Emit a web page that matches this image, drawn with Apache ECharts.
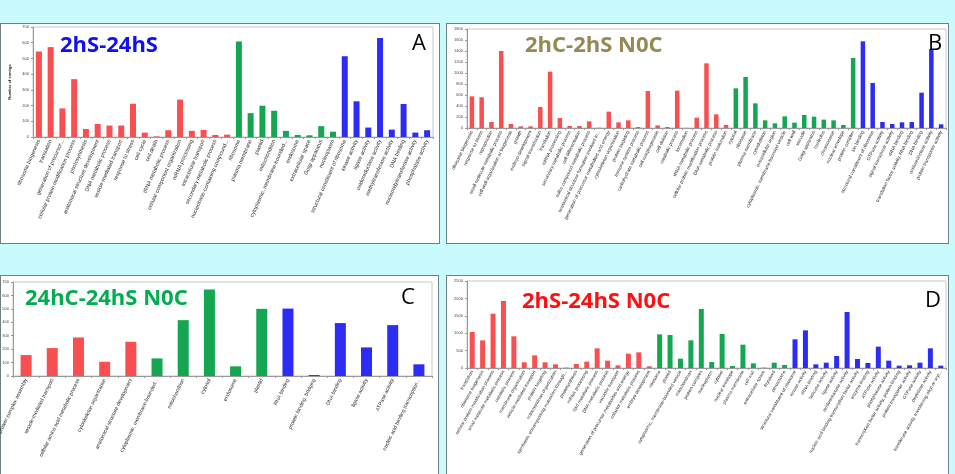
<!DOCTYPE html>
<html>
<head>
<meta charset="utf-8">
<script src="https://cdn.jsdelivr.net/npm/echarts@6/dist/echarts.min.js"></script>
<style>
html, body {
    margin: 0;
    padding: 0;
    width: 955px;
    height: 474px;
    overflow: hidden;
    background: #c9fbfd;
}
.panel {
    position: absolute;
    box-sizing: border-box;
    background: #ffffff;
    border: 1px solid #6f7f84;
}
.chartDiv {
    position: absolute;
}
</style>
</head>
<body>
<div class="panel" style="left:0;top:23px;width:440px;height:221px;"></div>
<div class="panel" style="left:446px;top:23px;width:503px;height:221px;"></div>
<div class="panel" style="left:0;top:275px;width:439px;height:210px;"></div>
<div class="panel" style="left:446px;top:275px;width:503px;height:210px;"></div>
<div id="chartA" class="chartDiv" style="left:0;top:23px;width:440px;height:221px;"></div>
<div id="chartB" class="chartDiv" style="left:446px;top:23px;width:503px;height:221px;"></div>
<div id="chartC" class="chartDiv" style="left:0;top:275px;width:439px;height:199px;"></div>
<div id="chartD" class="chartDiv" style="left:446px;top:275px;width:503px;height:199px;"></div>
<script>
// panel A : 2hS-24hS
const aCats = ['ribosome biogenesis', 'translation', 'generation of precursor...', 'cellular protein modification process',
    'photosynthesis', 'anatomical structure development', 'DNA metabolic process', 'vesicle-mediated transport',
    'response to stress', 'cell cycle', 'cell death', 'tRNA metabolic process', 'cellular component organization',
    'mRNA processing', 'intracellular transport', 'secondary metabolic process', 'nucleobase-containing compound...',
    'ribosome', 'plasma membrane', 'plastid', 'mitochondrion', 'cytoplasmic, membrane-bounded...', 'endosome',
    'extracellular space', 'Golgi apparatus', 'nucleoplasm',
    'structural constituent of ribosome', 'kinase activity', 'ligase activity', 'oxidoreductase activity',
    'methyltransferase activity', 'DNA binding', 'nucleotidyltransferase activity', 'phosphatase activity'];
const aVals = [544, 572, 182, 368, 51, 83, 73, 73, 212, 28, 4, 43, 238, 39, 45, 13, 15,
    608, 152, 199, 167, 39, 13, 11, 69, 34,
    514, 227, 60, 630, 47, 210, 28, 43];
const aGroups = [17, 9, 8];
const aTicks = [0, 700, 100];

// panel B : 2hC-2hS N0C
const bCats = ['ribosome biogenesis', 'response to stress', 'reproduction', 'small molecule metabolic process',
    'cell wall organization or biogenesis', 'growth', 'embryo development', 'signal transduction', 'translation',
    'mRNA processing', 'secondary metabolic process', 'cell differentiation', 'sulfur compound metabolic process',
    'anatomical structure formation involved in...', 'generation of precursor metabolites and energy',
    'cytoskeleton organization', 'protein targeting', 'immune system process', 'carbohydrate metabolic process',
    'cell morphogenesis', 'cell division', 'catabolic process', 'locomotion', 'tRNA metabolic process',
    'cellular protein modification process', 'DNA metabolic process', 'protein maturation',
    'cytosol', 'ribosome', 'plasma membrane', 'cytoskeleton', 'extracellular region',
    'cytoplasmic, membrane-bounded vesicle', 'cell wall', 'vacuole', 'Golgi apparatus', 'nucleolus', 'chromosome',
    'nuclear envelope', 'protein complex',
    'ion binding', 'structural constituent of ribosome', 'GTPase activity', 'signal transducer activity',
    'rRNA binding', 'translation factor activity, RNA binding', 'DNA binding', 'oxidoreductase activity',
    'protein transporter activity'];
const bVals = [576, 558, 109, 1400, 73, 30, 30, 382, 1024, 182, 36, 36, 121, 6, 297, 103, 139, 18, 673, 48, 18, 679, 2, 188, 1176, 248, 55,
    721, 927, 448, 139, 85, 212, 97, 236, 206, 152, 139, 55, 1273,
    1576, 818, 109, 73, 103, 109, 642, 1436, 67];
const bGroups = [27, 13, 9];
const bTicks = [0, 1800, 200];

// panel C : 24hC-24hS N0C
const cCats = ['protein complex assembly', 'vesicle-mediated transport', 'cellular amino acid metabolic process',
    'cytoskeleton organization', 'anatomical structure development',
    'cytoplasmic, membrane-bounded...', 'mitochondrion', 'cytosol', 'endosome', 'plastid',
    'RNA binding', 'protein binding, bridging', 'DNA binding', 'ligase activity', 'ATPase activity',
    'nucleic acid binding transcription...'];
const cVals = [156, 208, 287, 106, 255, 131, 416, 644, 72, 500, 502, 7, 394, 213, 379, 87];
const cGroups = [5, 5, 6];
const cTicks = [0, 700, 100];

// panel D : 2hS-24hS N0C
const dCats = ['translation', 'ribosome biogenesis', 'cellular protein modification process',
    'small molecule metabolic process', 'catabolic process', 'membrane organization', 'vesicle-mediated transport',
    'protein targeting', 'mitochondrion organization', 'symbiosis, encompassing mutualism through...',
    'photosynthesis', 'mRNA processing', 'lipid metabolic process', 'DNA metabolic process', 'vacuolar transport',
    'generation of precursor metabolites and energy', 'cofactor metabolic process', 'embryo development',
    'ribosome', 'plastid', 'cytoplasmic, membrane-bounded vesicle', 'mitochondrion', 'protein complex',
    'nucleoplasm', 'cytosol', 'nuclear envelope', 'plasma membrane', 'cell wall', 'extracellular space',
    'thylakoid', 'peroxisome',
    'structural constituent of ribosome', 'kinase activity', 'rRNA binding', 'helicase activity', 'ligase activity',
    'oxidoreductase activity', 'nucleic acid binding transcription factor activity', 'enzyme binding',
    'ATPase activity', 'phosphatase activity', 'transcription factor activity, protein binding',
    'protein transporter activity', 'GTPase activity', 'peptidase activity',
    'transferase activity, transferring alkyl or aryl...'];
const dVals = [1034, 795, 1561, 1925, 910, 163, 364, 163, 105, 10, 115, 182, 565, 211, 77, 412, 450, 48,
    967, 948, 268, 795, 1695, 172, 977, 57, 670, 134, 10, 153, 86,
    824, 1082, 105, 153, 345, 1609, 259, 144, 613, 211, 67, 77, 153, 565, 67];
const dGroups = [18, 13, 15];
const dTicks = [0, 2500, 500];

const groupColors = ['#f85050', '#14a651', '#2c2cf4'];

// 按分组给柱子上色 (process / component / function)
const colorBy = (groups) => (p) => {
    if (p.dataIndex < groups[0]) return groupColors[0];
    if (p.dataIndex < groups[0] + groups[1]) return groupColors[1];
    return groupColors[2];
};

const drawPanel = (id, cats, vals, groups, ticks, cfg) => {
    const chart = echarts.init(document.getElementById(id));
    chart.setOption({
        backgroundColor: 'transparent',
        animation: false,
        textStyle: { fontFamily: 'Liberation Sans' },
        title: [
            {
                text: cfg.title, left: cfg.titlePos[0], top: cfg.titlePos[1], padding: 0,
                textStyle: { fontFamily: 'Open Sans', fontWeight: 'bold', fontSize: 22, color: cfg.titleColor }
            },
            {
                text: cfg.letter, left: cfg.letterPos[0], top: cfg.letterPos[1], padding: 0,
                textStyle: { fontFamily: 'Open Sans', fontWeight: 'normal', fontSize: 22, color: '#000' }
            }
        ],
        grid: {
            left: cfg.grid[0], top: cfg.grid[1], width: cfg.grid[2], height: cfg.grid[3],
            show: true, borderColor: '#c8c8c8', borderWidth: 1,
            containLabel: false, outerBoundsMode: 'none'
        },
        xAxis: {
            type: 'category',
            data: cats,
            axisLine: { lineStyle: { color: '#9a9a9a' } },
            axisTick: { show: true, length: 2, lineStyle: { color: '#9a9a9a' } },
            axisLabel: {
                interval: 0, rotate: cfg.rotate, fontSize: cfg.labelSize, color: '#2a2a2a',
                margin: 3, hideOverlap: false
            }
        },
        yAxis: {
            type: 'value',
            min: ticks[0],
            max: ticks[1],
            interval: ticks[2],
            name: 'Number of contigs',
            nameLocation: 'middle',
            nameGap: cfg.nameGap,
            nameTextStyle: { fontSize: 4, fontWeight: 'bold', color: '#222' },
            axisLine: { show: true, lineStyle: { color: '#9a9a9a' } },
            axisTick: { show: true, length: 2, lineStyle: { color: '#9a9a9a' } },
            splitLine: { show: false },
            axisLabel: { fontSize: 4, color: '#444', margin: 4, formatter: (v) => String(v) }
        },
        series: [{
            type: 'bar',
            data: vals,
            barWidth: cfg.barWidth,
            itemStyle: { color: colorBy(groups) }
        }]
    });
    return chart;
};

drawPanel('chartA', aCats, aVals, aGroups, aTicks, {
    title: '2hS-24hS', titleColor: '#1010f0', titlePos: [60, 12],
    letter: 'A', letterPos: [412, 10],
    grid: [33, 4, 400, 110], barWidth: 6, labelSize: 5.4, rotate: 66, nameGap: 13
});
drawPanel('chartB', bCats, bVals, bGroups, bTicks, {
    title: '2hC-2hS N0C', titleColor: '#958a55', titlePos: [79, 12],
    letter: 'B', letterPos: [482, 10],
    grid: [21, 6, 479, 99], barWidth: 4.5, labelSize: 4.7, rotate: 64, nameGap: 16
});
drawPanel('chartC', cCats, cVals, cGroups, cTicks, {
    title: '24hC-24hS N0C', titleColor: '#00ad50', titlePos: [25, 13],
    letter: 'C', letterPos: [401, 12],
    grid: [13, 7, 419, 94], barWidth: 11, labelSize: 5.2, rotate: 64, nameGap: 14
});
drawPanel('chartD', dCats, dVals, dGroups, dTicks, {
    title: '2hS-24hS N0C', titleColor: '#ff0f0f', titlePos: [76, 16],
    letter: 'D', letterPos: [479, 15],
    grid: [21, 6, 479, 87], barWidth: 5, labelSize: 4.6, rotate: 60, nameGap: 17
});
</script>
</body>
</html>
